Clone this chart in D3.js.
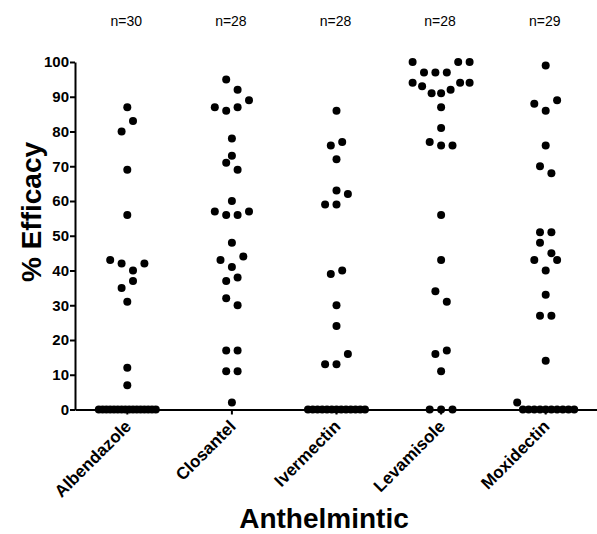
<!DOCTYPE html>
<html>
<head>
<meta charset="utf-8">
<script src="https://cdn.jsdelivr.net/npm/d3@7"></script>
<style>
    body { margin: 0; background: #fff; }
    svg { display: block; font-family: Arial, "Liberation Sans", sans-serif; }
</style>
</head>
<body>
<svg id="efficacy-chart" width="597" height="534"></svg>
<script>
// categories and group sizes
let categories = ["Albendazole", "Closantel", "Ivermectin", "Levamisole", "Moxidectin"];
let nLabels = ["n=30", "n=28", "n=28", "n=28", "n=29"];
let yTicks = [0, 10, 20, 30, 40, 50, 60, 70, 80, 90, 100];

// % efficacy per farm, in data order
let albendazole = [87, 80, 83, 69, 56, 43, 42, 40, 42, 35, 37, 31, 12, 7,
    0, 0, 0, 0, 0, 0, 0, 0, 0, 0, 0, 0, 0, 0, 0, 0];
let closantel = [95, 92, 87, 86, 87, 89, 78, 73, 71, 69, 60, 57, 56, 56, 57, 48,
    43, 41, 44, 37, 38, 32, 30, 17, 17, 11, 11, 2];
let ivermectin = [86, 76, 77, 72, 63, 59, 59, 62, 39, 40, 30, 24, 13, 13, 16,
    0, 0, 0, 0, 0, 0, 0, 0, 0, 0, 0, 0, 0];
let levamisole = [100, 97, 97, 97, 100, 100, 94, 93, 91, 91, 92, 94, 94, 87, 81,
    77, 76, 76, 56, 43, 34, 31, 16, 17, 11, 0, 0, 0];
let moxidectin = [99, 88, 86, 89, 76, 70, 68, 51, 51, 48, 45, 43, 40, 43, 33, 27, 27, 14, 2,
    0, 0, 0, 0, 0, 0, 0, 0, 0, 0];

let series = [albendazole, closantel, ivermectin, levamisole, moxidectin];

let svg = d3.select("#efficacy-chart");
let margin = {top: 62, right: 0, bottom: 124.5, left: 75};
let width = +svg.attr("width") - margin.left - margin.right + 1;
let height = +svg.attr("height") - margin.top - margin.bottom;

let g = svg.append("g")
    .attr("transform", "translate(" + margin.left + "," + margin.top + ")");

let x = d3.scaleBand().domain(categories).range([0, width]).padding(0);
let y = d3.scaleLinear().domain([0, 100]).range([height, 0]);

// scatter like prism: points within 3 units share a row, spread sideways
let dotR = 4;
let step = 11.4;
let maxSpread = 57;

function swarm(values) {
    let items = values.map(function (v, i) { return {value: v, index: i}; });
    let sorted = items.slice().sort(function (a, b) { return a.value - b.value || a.index - b.index; });
    let rows = [];
    let current = null;
    sorted.forEach(function (d) {
        if (!current || d.value - current.start > 3) {
            current = {start: d.value, points: []};
            rows.push(current);
        }
        current.points.push(d);
    });
    rows.forEach(function (row) {
        row.points.sort(function (a, b) { return a.index - b.index; });
        let k = row.points.length;
        let gap = k > 1 ? Math.min(step, maxSpread / (k - 1)) : 0;
        row.points.forEach(function (d, j) {
            d.dx = (j - (k - 1) / 2) * gap;
        });
    });
    return items;
}

let points = [];
series.forEach(function (values, i) {
    swarm(values).forEach(function (d) {
        d.category = categories[i];
        points.push(d);
    });
});

let black = "#000";

// axes
let xAxis = g.append("g")
    .attr("transform", "translate(0," + height + ")")
    .call(d3.axisBottom(x).tickSize(5).tickSizeOuter(0).tickFormat(""));
xAxis.select(".domain").attr("stroke-width", 2);
xAxis.selectAll(".tick line").attr("stroke-width", 2);

let yAxis = g.append("g")
    .call(d3.axisLeft(y).tickValues(yTicks).tickSize(5).tickSizeOuter(0).tickPadding(1));
yAxis.select(".domain").attr("stroke-width", 2);
yAxis.selectAll(".tick line").attr("stroke-width", 2);
yAxis.selectAll(".tick text")
    .attr("font-size", 15)
    .attr("font-weight", "bold")
    .attr("font-family", "Arial, 'Liberation Sans', sans-serif")
    .attr("fill", black);

// rotated category labels
g.append("g").selectAll("text")
    .data(categories)
    .enter().append("text")
    .attr("transform", function (c) {
        return "translate(" + (x(c) + x.bandwidth() / 2 + 5) + "," + (height + 18) + ") rotate(-45)";
    })
    .attr("text-anchor", "end")
    .attr("font-size", 17)
    .attr("font-weight", "bold")
    .attr("fill", black)
    .text(function (c) { return c; });

// n= labels along the top
svg.append("g").selectAll("text")
    .data(categories)
    .enter().append("text")
    .attr("x", function (c) { return margin.left + x(c) + x.bandwidth() / 2 - 1; })
    .attr("y", 26)
    .attr("text-anchor", "middle")
    .attr("font-size", 14)
    .attr("fill", black)
    .text(function (c, i) { return nLabels[i]; });

// dots
g.append("g").selectAll("circle")
    .data(points)
    .enter().append("circle")
    .attr("cx", function (d) { return x(d.category) + x.bandwidth() / 2 + d.dx; })
    .attr("cy", function (d) { return y(d.value); })
    .attr("r", dotR)
    .attr("fill", black);

// axis titles
svg.append("text")
    .attr("transform", "translate(40.5," + 212 + ") rotate(-90)")
    .attr("text-anchor", "middle")
    .attr("font-size", 28)
    .attr("font-weight", "bold")
    .attr("fill", black)
    .text("% Efficacy");

svg.append("text")
    .attr("x", 324)
    .attr("y", 528)
    .attr("text-anchor", "middle")
    .attr("font-size", 28)
    .attr("font-weight", "bold")
    .attr("fill", black)
    .text("Anthelmintic");
</script>
</body>
</html>
